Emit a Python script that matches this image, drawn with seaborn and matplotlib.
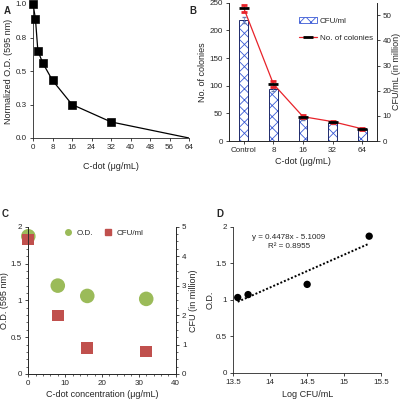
import numpy as np
import pandas as pd
import matplotlib
matplotlib.use('Agg')
import matplotlib.pyplot as plt
import matplotlib.patches as mpatches
from matplotlib.lines import Line2D
from matplotlib.ticker import MultipleLocator
import seaborn as sns

# panel A - normalized O.D. vs C-dot
a_dose = [0, 1, 2, 4, 8, 16, 32]
a_od = [1.0, 0.89, 0.65, 0.56, 0.43, 0.25, 0.12]
a_curve_x = [0, 1, 2, 4, 8, 16, 32, 64]
a_curve_y = [1.0, 0.89, 0.65, 0.56, 0.43, 0.25, 0.12, 0.0]

# panel B - colonies and CFU
b_labels = ['Control', '8', '16', '32', '64']
b_colonies = [240, 103, 44, 35, 22]
b_colonies_err = [6, 5, 3, 2, 2]
b_cfu = [48, 20.7, 8.8, 7.0, 4.7]
b_cfu_err = [1.2, 0.8, 0.5, 0.4, 0.3]

# panel C - O.D. and CFU vs concentration
c_conc = [0, 8, 16, 32]
c_od = [1.87, 1.20, 1.06, 1.02]
c_cfu = [4.57, 1.99, 0.88, 0.77]

# panel D - O.D. vs log CFU
d_logcfu = [13.56, 13.70, 14.50, 15.34]
d_od = [1.03, 1.07, 1.21, 1.87]
d_slope, d_icpt = 0.4478, -5.1009

sns.set_style('ticks')
plt.rcParams['font.family'] = ['Liberation Sans', 'DejaVu Sans']
plt.rcParams['xtick.labelsize'] = 5.8
plt.rcParams['ytick.labelsize'] = 5.8
plt.rcParams['axes.labelsize'] = 6.5
plt.rcParams['xtick.major.size'] = 2.5
plt.rcParams['ytick.major.size'] = 2.5
plt.rcParams['xtick.major.width'] = 0.6
plt.rcParams['ytick.major.width'] = 0.6
plt.rcParams['axes.linewidth'] = 0.6
plt.rcParams['xtick.major.pad'] = 2
plt.rcParams['ytick.major.pad'] = 2
plt.rcParams['axes.labelpad'] = 3
plt.rcParams['hatch.linewidth'] = 0.6

fig = plt.figure(figsize=(4, 4), dpi=100)

def frac(l, t, r, b):
    return [l / 400, 1 - b / 400, (r - l) / 400, (b - t) / 400]

# ---- A
ax = fig.add_axes(frac(33, 4, 189, 138))
sns.lineplot(x=a_curve_x, y=a_curve_y, ax=ax, color='black', lw=0.9)
sns.scatterplot(x=a_dose, y=a_od, ax=ax, marker='s', s=34, color='black',
                edgecolor='black', clip_on=False, zorder=5)
ax.set_xlim(0, 64)
ax.set_ylim(0, 1)
ax.set_xticks(range(0, 65, 8))
ax.set_yticks([0, 0.25, 0.5, 0.75, 1.0])
ax.set_yticklabels(['0.0', '0.3', '0.5', '0.8', '1.0'])
ax.set_xlabel('C-dot (μg/mL)', labelpad=8)
ax.set_ylabel('Normalized O.D. (595 nm)', labelpad=2)
sns.despine(ax=ax)
fig.text(0.01, 0.985, 'A', fontsize=7, fontweight='bold', va='top')

# ---- B
axb = fig.add_axes(frac(229, 2.7, 377, 141))
axr = axb.twinx()
x = np.arange(len(b_labels))
# hatch takes the edge colour, so hatched blue bars + a navy outline on top
sns.barplot(x=b_labels, y=b_cfu, ax=axr, width=0.3, color='white',
            edgecolor='#3b5bd6', linewidth=0, hatch='xxx')
sns.barplot(x=b_labels, y=b_cfu, ax=axr, width=0.3, fill=False,
            color='#1f2a6b', linewidth=0.7)
axr.errorbar(x, b_cfu, yerr=b_cfu_err, fmt='none', ecolor='#6a7fb0',
             elinewidth=0.5, capsize=1.5)
axb.errorbar(x, b_colonies, yerr=b_colonies_err, color='#e8232a', lw=0.9,
             ecolor='#e8232a', elinewidth=0.5, capsize=2, marker='_',
             mec='black', ms=7, mew=2)
axb.set_zorder(axr.get_zorder() + 1)
axb.patch.set_visible(False)
axb.set_xlim(-0.5, 4.5)
axb.set_ylim(0, 250)
axr.set_ylim(0, 55)
axb.set_yticks(range(0, 251, 50))
axr.set_yticks(range(0, 51, 10))
axr.tick_params(axis='y', pad=1.5)
axb.set_xticks(x)
axb.set_xticklabels(b_labels)
axb.set_xlabel('C-dot (μg/mL)', labelpad=2)
axb.set_ylabel('No. of colonies', labelpad=2)
axr.set_ylabel('CFU/mL (in million)', labelpad=0.5)
axr.set_xlabel('')
for a in (axb, axr):
    a.spines['top'].set_visible(False)
h1 = mpatches.Patch(facecolor='white', edgecolor='#3b5bd6', hatch='xxx', lw=0.6)
h2 = Line2D([], [], color='#e8232a', lw=0.9, marker='_', mec='black', ms=7, mew=2)
axb.legend([h1, h2], ['CFU/ml', 'No. of colonies'], loc='upper right',
           bbox_to_anchor=(1.02, 0.95), frameon=False, fontsize=5.8,
           handlelength=2.2, labelspacing=1.2, handletextpad=0.3)
fig.text(0.473, 0.985, 'B', fontsize=7, fontweight='bold', va='top')

# ---- C
axc = fig.add_axes(frac(28.3, 226.7, 175.7, 374))
axc2 = axc.twinx()
sns.scatterplot(x=c_conc, y=c_od, ax=axc, color='#9bbb59', s=110,
                edgecolor='none', clip_on=False, legend=False)
sns.scatterplot(x=c_conc, y=c_cfu, ax=axc2, color='#c0504d', marker='s',
                s=70, edgecolor='none', clip_on=False, legend=False)
axc.set_xlim(0, 40)
axc.set_ylim(0, 2)
axc2.set_ylim(0, 5)
axc.set_xticks(range(0, 41, 10))
axc.set_yticks([0, 0.5, 1, 1.5, 2])
axc.set_yticklabels(['0', '0.5', '1', '1.5', '2'])
axc2.set_yticks(range(0, 6))
axc.xaxis.set_minor_locator(MultipleLocator(2))
axc.yaxis.set_minor_locator(MultipleLocator(0.1))
axc2.yaxis.set_minor_locator(MultipleLocator(0.25))
for a in (axc, axc2):
    a.tick_params(which='minor', length=1.5, width=0.5)
    a.spines['top'].set_visible(False)
axc.set_xlabel('C-dot concentration (μg/mL)', labelpad=2)
axc.set_ylabel('O.D. (595 nm)', labelpad=1)
axc2.set_ylabel('CFU (in million)', labelpad=2)
g1 = Line2D([], [], ls='none', marker='o', color='#9bbb59', ms=4)
g2 = Line2D([], [], ls='none', marker='s', color='#c0504d', ms=4)
axc.legend([g1, g2], ['O.D.', 'CFU/ml'], loc='upper center', ncol=2,
           frameon=False, fontsize=5.8, handletextpad=0.1, columnspacing=0.8,
           bbox_to_anchor=(0.5, 1.03))
fig.text(0.005, 0.478, 'C', fontsize=7, fontweight='bold', va='top')

# ---- D
axd = fig.add_axes(frac(233.3, 226.7, 381, 372.7))
fit_x = np.array([min(d_logcfu), max(d_logcfu)])
axd.plot(fit_x, d_slope * fit_x + d_icpt, ls=(0, (1, 1)), color='black', lw=1.4)
sns.scatterplot(x=d_logcfu, y=d_od, ax=axd, color='black', s=28,
                edgecolor='none', zorder=5)
axd.set_xlim(13.5, 15.5)
axd.set_ylim(0, 2)
axd.set_xticks([13.5, 14, 14.5, 15, 15.5])
axd.set_xticklabels(['13.5', '14', '14.5', '15', '15.5'])
axd.set_yticks([0, 0.5, 1, 1.5, 2])
axd.set_yticklabels(['0', '0.5', '1', '1.5', '2'])
axd.set_xlabel('Log CFU/mL', labelpad=3)
axd.set_ylabel('O.D.', labelpad=1)
sns.despine(ax=axd)
axd.text(14.25, 1.79, 'y = 0.4478x - 5.1009\nR² = 0.8955', fontsize=5.8,
         ha='center', va='center', linespacing=1.4)
fig.text(0.54, 0.478, 'D', fontsize=7, fontweight='bold', va='top')

fig.savefig('out.png', dpi=100)
